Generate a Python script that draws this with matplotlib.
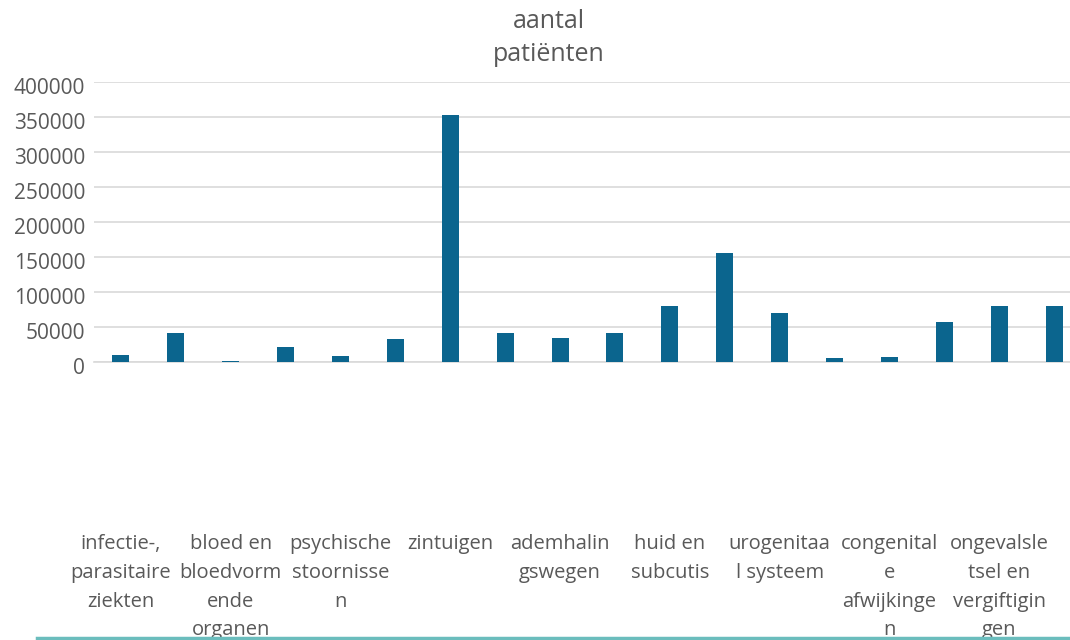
import matplotlib
matplotlib.use("Agg")
import matplotlib.pyplot as plt
from matplotlib.lines import Line2D
from matplotlib.transforms import ScaledTranslation

# Data
categories = [
    "infectie-,\nparasitaire\nziekten", "",
    "bloed en\nbloedvorm\nende\norganen", "",
    "psychische\nstoornisse\nn", "",
    "zintuigen", "",
    "ademhalin\ngswegen", "",
    "huid en\nsubcutis", "",
    "urogenitaa\nl systeem", "",
    "congenital\ne\nafwijkinge\nn", "",
    "ongevalsle\ntsel en\nvergiftigin\ngen", "",
]
patients = [9500, 42000, 2000, 21500, 8600, 33000, 353500, 42000, 33900,
            42000, 79600, 156300, 69600, 5700, 6700, 56700, 80600, 79600]
yticks = [0, 50000, 100000, 150000, 200000, 250000, 300000, 350000, 400000]
title = "aantal\npatiënten"

text_color = "#595959"
bar_color = "#0B658E"

plt.rcParams["font.family"] = ["Open Sans", "DejaVu Sans"]

fig = plt.figure(figsize=(10.7, 6.4), dpi=100)
ax = fig.add_axes([93.5 / 1070, 1 - 362 / 640, 988 / 1070, 280 / 640])

x = list(range(len(patients)))
ax.bar(x, patients, width=0.31, color=bar_color, zorder=3)

ax.set_xlim(-0.5, len(patients) - 0.5)
ax.set_ylim(0, 400000)
ax.set_yticks(yticks)
ax.set_yticklabels([str(v) for v in yticks])
ax.set_xticks(x)
ax.set_xticklabels(categories, linespacing=1.58)

ax.grid(axis="y", color="#D9D9D9", linewidth=1.2, zorder=0)
for side in ["top", "right", "left"]:
    ax.spines[side].set_visible(False)
ax.spines["bottom"].set_color("#D9D9D9")
ax.spines["bottom"].set_linewidth(1.2)

ax.tick_params(axis="y", length=0, pad=6, labelsize=15, labelcolor=text_color)
ax.tick_params(axis="x", length=0, pad=124, labelsize=14.5, labelcolor=text_color)

# y labels sit a little below their gridlines, as in the original
shift = ScaledTranslation(0, -3 / 72, fig.dpi_scale_trans)
for lab in ax.get_yticklabels():
    lab.set_transform(lab.get_transform() + shift)

fig.text(549 / 1070, 1 - 38 / 640, title, ha="center", va="center",
         fontsize=18, color=text_color, linespacing=1.45)

# teal rule at the bottom of the slide
fig.add_artist(Line2D([37 / 1070, 1.0], [1 - 637.5 / 640] * 2,
                      transform=fig.transFigure, color="#6BBDBD", linewidth=2.5))

fig.savefig("out.png", dpi=100)
